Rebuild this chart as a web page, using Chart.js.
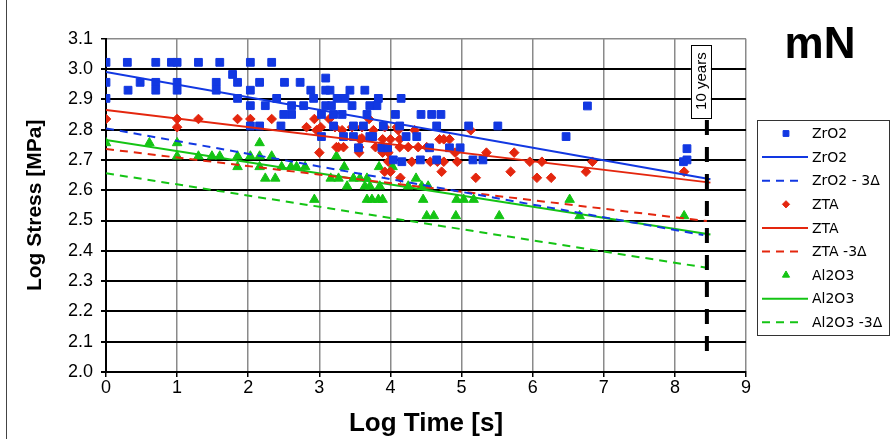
<!DOCTYPE html>
<html><head><meta charset="utf-8">
<script src="https://cdn.jsdelivr.net/npm/chart.js@4/dist/chart.umd.min.js"></script>
<style>html,body{margin:0;padding:0;background:#fff;overflow:hidden}#wrap{width:893px;height:439px;position:relative}</style>
</head><body><div id="wrap"><canvas id="c" width="893" height="439"></canvas></div>
<script>
// ---- data (Log Time [s], Log Stress [MPa]) ----
const xTickValues = [0,1,2,3,4,5,6,7,8,9];
const yTickValues = [2.0,2.1,2.2,2.3,2.4,2.5,2.6,2.7,2.8,2.9,3.0,3.1];
const seriesNames = ['ZrO2','ZrO2','ZrO2 - 3\u0394','ZTA','ZTA','ZTA -3\u0394','Al2O3','Al2O3','Al2O3 -3\u0394'];
const chartTitle = 'mN';
const markerLabel = '10 years';
const tenYearsLogTime = 8.45;
const markerRange = [2.066, 2.832];

const zro2Points = [
 [0,3.022],[0.3,3.022],[0.7,3.022],[0.92,3.022],[1.0,3.022],[1.3,3.022],[1.6,3.022],[2.03,3.022],[2.33,3.022],
 [1.78,2.982],[3.09,2.97],
 [0,2.956],[0.48,2.956],[0.7,2.956],[1.0,2.956],[1.55,2.956],[1.85,2.956],[2.16,2.956],[2.51,2.956],[2.73,2.956],
 [0.31,2.93],[0.7,2.93],[1.0,2.93],[1.55,2.93],[2.03,2.93],[2.88,2.93],[3.09,2.93],[3.15,2.93],[3.43,2.93],[3.64,2.93],
 [0,2.903],[1.85,2.903],[2.4,2.903],[2.92,2.903],[3.25,2.903],[3.36,2.903],[3.83,2.903],[4.15,2.903],
 [2.03,2.879],[2.24,2.879],[2.61,2.879],[2.78,2.879],[3.09,2.879],[3.17,2.879],[3.46,2.879],[3.71,2.879],[3.81,2.879],[6.77,2.878],
 [2.5,2.85],[2.61,2.85],[3.03,2.85],[3.2,2.85],[3.32,2.85],[3.67,2.85],[4.07,2.85],[4.43,2.85],[4.58,2.85],[4.71,2.85],
 [2.03,2.812],[2.16,2.812],[2.46,2.812],[3.2,2.812],[3.48,2.812],[3.62,2.812],[3.9,2.812],[4.13,2.812],[4.65,2.812],[5.1,2.812],[5.51,2.812],
 [3.03,2.777],[3.34,2.777],[3.48,2.777],[3.71,2.777],[3.75,2.777],[4.22,2.777],[4.37,2.777],[6.47,2.777],
 [3.55,2.74],[3.88,2.74],[3.96,2.74],[4.55,2.74],[4.83,2.74],[4.98,2.74],[8.17,2.737],
 [4.04,2.70],[4.16,2.694],[4.42,2.70],[4.65,2.70],[5.16,2.70],[5.3,2.70],[8.12,2.694],[8.17,2.70]
];
const ztaPoints = [
 [0,2.835],[1.0,2.835],[1.3,2.835],[1.85,2.835],[2.03,2.835],[2.33,2.835],[2.93,2.835],[3.14,2.835],[3.7,2.835],
 [1.0,2.808],[2.82,2.808],[3.02,2.808],[3.22,2.808],[3.46,2.808],[3.6,2.808],[3.92,2.808],[4.09,2.808],
 [2.96,2.798],[3.32,2.798],[3.76,2.798],[4.11,2.798],[4.34,2.798],[5.13,2.798],
 [3.57,2.768],[3.6,2.771],[3.89,2.768],[4.0,2.768],[4.13,2.768],[4.69,2.768],[4.75,2.768],[4.83,2.768],
 [3.24,2.742],[3.27,2.742],[3.34,2.742],[3.56,2.742],[3.79,2.742],[4.13,2.742],[4.25,2.742],[4.39,2.742],[4.51,2.742],
 [3.0,2.724],[3.56,2.724],[3.89,2.724],[3.97,2.724],[4.91,2.724],[5.35,2.724],[5.74,2.724],
 [3.97,2.694],[4.3,2.694],[4.56,2.694],[4.66,2.694],[4.75,2.694],[4.94,2.694],[5.96,2.694],[6.13,2.694],[6.84,2.694],
 [3.92,2.661],[4.0,2.661],[4.72,2.661],[5.69,2.661],[6.75,2.661],[8.13,2.661],
 [4.14,2.641],[5.2,2.641],[6.06,2.641],[6.26,2.641]
];
const al2o3Points = [
 [0,2.756],[0.61,2.756],[1.0,2.756],[2.16,2.756],
 [1.0,2.712],[1.3,2.712],[1.49,2.712],[1.6,2.712],[1.85,2.712],[2.03,2.712],[2.16,2.712],[2.33,2.712],[3.24,2.712],
 [1.85,2.677],[2.16,2.677],[2.47,2.677],[2.6,2.677],[2.68,2.677],[2.8,2.677],[3.35,2.677],[3.84,2.677],[4.03,2.677],
 [2.24,2.639],[2.38,2.639],[3.16,2.639],[3.27,2.639],[3.48,2.639],[3.57,2.639],[3.67,2.639],[4.36,2.639],
 [3.39,2.613],[3.64,2.613],[3.71,2.613],[3.85,2.613],[4.25,2.613],[4.44,2.613],[4.53,2.613],
 [2.93,2.569],[3.67,2.569],[3.74,2.569],[3.83,2.569],[3.89,2.569],[4.46,2.569],[4.93,2.569],[5.03,2.569],[5.17,2.569],[6.52,2.569],
 [4.51,2.515],[4.61,2.515],[4.92,2.515],[5.53,2.515],[6.66,2.515],[8.13,2.515]
];
const zro2Fit = [[0,2.99],[8.5,2.636]];
const zro2Lower = [[0,2.804],[8.4,2.452]];
const ztaFit = [[0,2.865],[8.5,2.625]];
const ztaLower = [[0,2.736],[8.45,2.498]];
const al2o3Fit = [[0,2.766],[8.5,2.454]];
const al2o3Lower = [[0,2.656],[8.45,2.344]];

// ---- styles ----
const BLUE = '#1238e2', RED = '#e4260e', GREEN = '#14c414';
const toXY = arr => arr.map(p => ({x: p[0], y: p[1]}));
const DASH = [8,6];

function pts(label, data, color, style, r) {
  return {label, data: toXY(data), showLine: false, pointStyle: style, pointRadius: r, pointHoverRadius: r,
    backgroundColor: color, borderColor: color, pointBorderWidth: 1, order: 2, legendKind: 'point'};
}
function line(label, data, color, dash) {
  return {label, data: toXY(data), showLine: true, pointRadius: 0, pointHoverRadius: 0, borderColor: color,
    backgroundColor: color, borderWidth: 2, borderDash: dash || [], fill: false, order: 1, legendKind: 'line'};
}

const datasets = [
  pts(seriesNames[0], zro2Points, BLUE, 'rect', 5.5),
  line(seriesNames[1], zro2Fit, BLUE),
  line(seriesNames[2], zro2Lower, BLUE, DASH),
  pts(seriesNames[3], ztaPoints, RED, 'rectRot', 4.8),
  line(seriesNames[4], ztaFit, RED),
  line(seriesNames[5], ztaLower, RED, DASH),
  pts(seriesNames[6], al2o3Points, GREEN, 'triangle', 5.5),
  line(seriesNames[7], al2o3Fit, GREEN),
  line(seriesNames[8], al2o3Lower, GREEN, DASH),
  {label: markerLabel, data: [{x: tenYearsLogTime, y: markerRange[1]}, {x: tenYearsLogTime, y: markerRange[0]}],
   showLine: true, pointRadius: 0, borderColor: '#000', borderWidth: 4, borderDash: [15,12], order: 0, legendKind: 'none'}
];

const extras = {
  id: 'extras',
  afterDraw(chart) {
    const ctx = chart.ctx, xs = chart.scales.x, ys = chart.scales.y;
    ctx.save();
    ctx.strokeStyle = '#444'; ctx.lineWidth = 1;
    ctx.beginPath(); ctx.moveTo(6.5, 0); ctx.lineTo(6.5, 439); ctx.stroke();
    // 10 years label box
    const lx = xs.getPixelForValue(tenYearsLogTime) - 6;
    const top = ys.getPixelForValue(3.08), bot = ys.getPixelForValue(2.84);
    ctx.fillStyle = '#fff'; ctx.fillRect(lx - 10, top, 20, bot - top);
    ctx.strokeStyle = '#000'; ctx.lineWidth = 1; ctx.strokeRect(Math.round(lx - 10) + 0.5, Math.round(top) + 0.5, 20, Math.round(bot - top));
    ctx.translate(lx + 1, (top + bot) / 2); ctx.rotate(-Math.PI / 2);
    ctx.fillStyle = '#000'; ctx.font = '15px "Liberation Sans", Arial, sans-serif';
    ctx.textAlign = 'center'; ctx.textBaseline = 'middle';
    ctx.fillText(markerLabel, 0, 0);
    ctx.restore();
    ctx.save();
    ctx.fillStyle = '#000'; ctx.font = 'bold 44px "Liberation Sans", Arial, sans-serif';
    ctx.textAlign = 'center'; ctx.textBaseline = 'alphabetic';
    ctx.fillText(chartTitle, 820, 58);
    // legend
    const bx = 757.5, by = 120.5, bw = 132, bh = 215;
    ctx.fillStyle = '#fff'; ctx.fillRect(bx, by, bw, bh);
    ctx.strokeStyle = '#333'; ctx.lineWidth = 1; ctx.strokeRect(bx, by, bw, bh);
    let row = 0;
    chart.data.datasets.forEach(ds => {
      if (ds.legendKind === 'none') return;
      const y = 133.5 + row * 23.6;
      if (ds.legendKind === 'line') {
        ctx.save();
        ctx.strokeStyle = ds.borderColor; ctx.lineWidth = 2; ctx.setLineDash(ds.borderDash || []);
        ctx.beginPath(); ctx.moveTo(762, y); ctx.lineTo(ds.borderDash && ds.borderDash.length ? 802 : 808, y); ctx.stroke();
        ctx.restore();
      } else {
        ctx.save();
        ctx.fillStyle = ds.backgroundColor; ctx.strokeStyle = ds.borderColor; ctx.lineWidth = 1;
        Chart.helpers.drawPoint(ctx, {pointStyle: ds.pointStyle, radius: ds.pointRadius * 0.75, borderWidth: 1, rotation: 0}, 786, y);
        ctx.restore();
      }
      ctx.fillStyle = '#000'; ctx.font = '14px "DejaVu Sans", sans-serif';
      ctx.textAlign = 'left'; ctx.textBaseline = 'middle';
      ctx.fillText(ds.label, 812, y + 1);
      row++;
    });
    ctx.restore();
  }
};

new Chart(document.getElementById('c'), {
  type: 'scatter',
  data: {datasets},
  options: {
    responsive: false, animation: false, devicePixelRatio: 1,
    layout: {padding: {left: 0, right: 147, top: 38.7, bottom: 0}},
    plugins: {legend: {display: false}, tooltip: {enabled: false}, title: {display: false}},
    scales: {
      x: {
        type: 'linear', min: 0, max: 9,
        afterBuildTicks: s => { s.ticks = xTickValues.map(v => ({value: v})); },
        afterFit: s => { s.height = 67; },
        ticks: {color: '#000', font: {family: '"Liberation Sans Narrow", "Liberation Sans", sans-serif', size: 18}, padding: 0, maxRotation: 0, autoSkip: false},
        grid: {color: c => (c.tick && c.tick.value === 0) ? '#000' : '#8a8a8a', lineWidth: 1.5, tickLength: 5, tickColor: '#000'},
        border: {display: true, color: '#000', width: 2},
        title: {display: true, text: 'Log Time [s]', color: '#000', font: {family: '"Liberation Sans Narrow", "Liberation Sans", sans-serif', size: 26, weight: 'bold'}, padding: {top: 0, bottom: 0}}
      },
      y: {
        type: 'linear', min: 2.0, max: 3.1,
        afterBuildTicks: s => { s.ticks = yTickValues.map(v => ({value: v})); },
        afterFit: s => { s.width = 106; },
        ticks: {color: '#000', font: {family: '"Liberation Sans Narrow", "Liberation Sans", sans-serif', size: 18}, padding: 8, callback: v => Number(v).toFixed(1)},
        grid: {color: c => (c.tick && Math.abs(c.tick.value - 3.1) < 1e-6) ? '#8a8a8a' : '#000', lineWidth: c => (c.tick && Math.abs(c.tick.value - 3.1) < 1e-6) ? 1.5 : 2, tickLength: 5, tickColor: '#000'},
        border: {display: true, color: '#000', width: 2},
        title: {display: true, text: 'Log Stress [MPa]', color: '#000', font: {family: '"Liberation Sans", Arial, sans-serif', size: 21, weight: 'bold'}, padding: {top: 23, bottom: 0}}
      }
    }
  },
  plugins: [extras]
});
</script></body></html>
